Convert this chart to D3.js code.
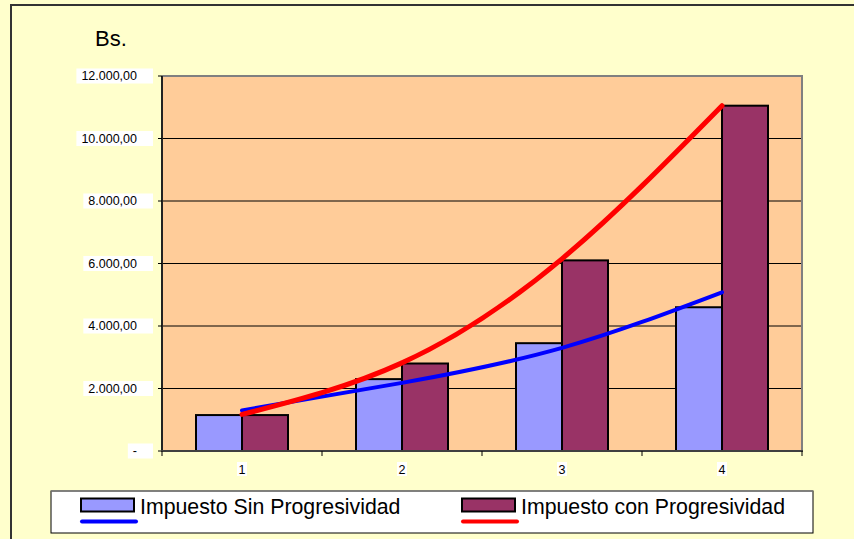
<!DOCTYPE html>
<html>
<head>
<meta charset="utf-8">
<script src="https://cdn.jsdelivr.net/npm/d3@7"></script>
<style>
  body { margin: 0; background: #FFFFCC; }
  svg { display: block; font-family: Arial, "Liberation Sans", sans-serif; }
</style>
</head>
<body>
<svg width="854" height="539"></svg>
<script>
// data
const categories = ['1', '2', '3', '4'];
const seriesNames = ['Impuesto Sin Progresividad', 'Impuesto con Progresividad'];
const sinProgresividad = [1150, 2300, 3450, 4600];
const conProgresividad = [1150, 2800, 6100, 11050];
// trend lines drawn over the bars
const trendSin = [1300, 2180, 3300, 5080];
const trendCon = [1170, 2820, 6150, 11050];
const yTicks = [0, 2000, 4000, 6000, 8000, 10000, 12000];

const barColors = ['#9999FF', '#993366'];
const lineColors = ['#0000FF', '#FF0000'];

const svg = d3.select('svg');
const margin = { left: 162, right: 802, top: 76, bottom: 451 };

// outer frame
svg.append('rect')
  .attr('x', 11).attr('y', 5)
  .attr('width', 900).attr('height', 600)
  .attr('fill', '#FFFFCC')
  .attr('stroke', '#333').attr('stroke-width', 2);

svg.append('text')
  .attr('x', 95).attr('y', 46)
  .attr('font-size', 22)
  .text('Bs.');

const x = d3.scaleBand()
  .domain(categories)
  .range([margin.left, margin.right])
  .paddingInner(0.425)
  .paddingOuter(0.2125);

const x1 = d3.scaleBand()
  .domain(seriesNames)
  .range([0, x.bandwidth()]);

const y = d3.scaleLinear()
  .domain([0, 12000])
  .range([margin.bottom, margin.top]);

// plot area
svg.append('rect')
  .attr('x', margin.left).attr('y', margin.top)
  .attr('width', margin.right - margin.left)
  .attr('height', margin.bottom - margin.top)
  .attr('fill', '#FFCC99');

// gridlines
svg.append('g').selectAll('line')
  .data(yTicks.filter(d => d > 0 && d < 12000))
  .join('line')
  .attr('x1', margin.left).attr('x2', margin.right)
  .attr('y1', d => y(d)).attr('y2', d => y(d))
  .attr('stroke', '#000').attr('stroke-width', 1);

// top/right border of plot area
svg.append('path')
  .attr('d', `M${margin.left},${margin.top}H${margin.right}V${margin.bottom}`)
  .attr('fill', 'none')
  .attr('stroke', '#808080').attr('stroke-width', 2);

// bars
const rows = categories.map((c, i) => ({ cat: c, vals: [sinProgresividad[i], conProgresividad[i]] }));
svg.append('g').selectAll('g')
  .data(rows)
  .join('g')
  .attr('transform', d => `translate(${x(d.cat)},0)`)
  .selectAll('rect')
  .data(d => d.vals.map((v, k) => ({ name: seriesNames[k], v, k })))
  .join('rect')
  .attr('x', d => x1(d.name))
  .attr('y', d => y(d.v))
  .attr('width', x1.bandwidth())
  .attr('height', d => y(0) - y(d.v))
  .attr('fill', d => barColors[d.k])
  .attr('stroke', '#000').attr('stroke-width', 2);

// trend lines
const line = d3.line()
  .x((d, i) => x(categories[i]) + x.bandwidth() / 2)
  .y(d => y(d))
  .curve(d3.curveNatural);

[trendSin, trendCon].forEach((t, k) => {
  svg.append('path')
    .datum(t)
    .attr('d', line)
    .attr('fill', 'none')
    .attr('stroke', lineColors[k])
    .attr('stroke-width', k ? 5 : 4)
    .attr('stroke-linecap', 'round');
});

// y axis
const fmt = d3.formatLocale({ decimal: ',', thousands: '.', grouping: [3], currency: ['', ''] }).format(',.2f');
const yAxis = svg.append('g');
yAxis.append('line')
  .attr('x1', margin.left).attr('x2', margin.left)
  .attr('y1', margin.top).attr('y2', margin.bottom + 1)
  .attr('stroke', '#222').attr('stroke-width', 2);
const yt = yAxis.selectAll('g')
  .data(yTicks)
  .join('g')
  .attr('transform', d => `translate(0,${y(d)})`);
yt.append('line')
  .attr('x1', margin.left - 4).attr('x2', margin.left)
  .attr('stroke', '#000');
yt.append('rect').attr('fill', '#fff');
yt.append('text')
  .attr('x', 137).attr('dy', '0.35em')
  .attr('text-anchor', 'end')
  .attr('font-size', 12.5)
  .text(d => d === 0 ? '-' : fmt(d));
yt.each(function() {
  const g = d3.select(this);
  const b = g.select('text').node().getBBox();
  g.select('rect')
    .attr('x', b.x - 5).attr('y', -7.5)
    .attr('width', 153 - (b.x - 5)).attr('height', 15);
});

// x axis
const xAxis = svg.append('g');
xAxis.append('line')
  .attr('x1', margin.left - 1).attr('x2', margin.right + 1)
  .attr('y1', margin.bottom).attr('y2', margin.bottom)
  .attr('stroke', '#404040').attr('stroke-width', 2);
xAxis.selectAll('.tick')
  .data(categories.concat(['end']))
  .join('line')
  .attr('class', 'tick')
  .attr('x1', (d, i) => margin.left + i * x.step())
  .attr('x2', (d, i) => margin.left + i * x.step())
  .attr('y1', margin.bottom).attr('y2', margin.bottom + 5)
  .attr('stroke', '#000');
const xl = xAxis.selectAll('.lab')
  .data(categories)
  .join('g')
  .attr('class', 'lab')
  .attr('transform', d => `translate(${x(d) + x.bandwidth() / 2},474)`);
xl.append('rect')
  .attr('x', -5).attr('y', -12).attr('width', 10).attr('height', 14)
  .attr('fill', '#fff');
xl.append('text')
  .attr('text-anchor', 'middle')
  .attr('font-size', 12.5)
  .text(d => d);

// legend
const legend = svg.append('g');
legend.append('rect')
  .attr('x', 51).attr('y', 491)
  .attr('width', 762).attr('height', 42)
  .attr('fill', '#fff')
  .attr('stroke', '#000').attr('stroke-width', 1);
legend.append('line')
  .attr('x1', 51).attr('x2', 813).attr('y1', 491).attr('y2', 491)
  .attr('stroke', '#808080').attr('stroke-width', 1.5);
const legX = [81, 462];
const items = legend.selectAll('g')
  .data(seriesNames)
  .join('g')
  .attr('transform', (d, i) => `translate(${legX[i]},0)`);
items.append('rect')
  .attr('x', 0).attr('y', 498.5)
  .attr('width', 53).attr('height', 13)
  .attr('fill', (d, i) => barColors[i])
  .attr('stroke', '#000').attr('stroke-width', 2);
items.append('line')
  .attr('x1', 1).attr('x2', 55)
  .attr('y1', 521.5).attr('y2', 521.5)
  .attr('stroke', (d, i) => lineColors[i])
  .attr('stroke-width', 4)
  .attr('stroke-linecap', 'round');
items.append('text')
  .attr('x', 59).attr('y', 513.5)
  .attr('font-size', 21.3)
  .text(d => d);
</script>
</body>
</html>
